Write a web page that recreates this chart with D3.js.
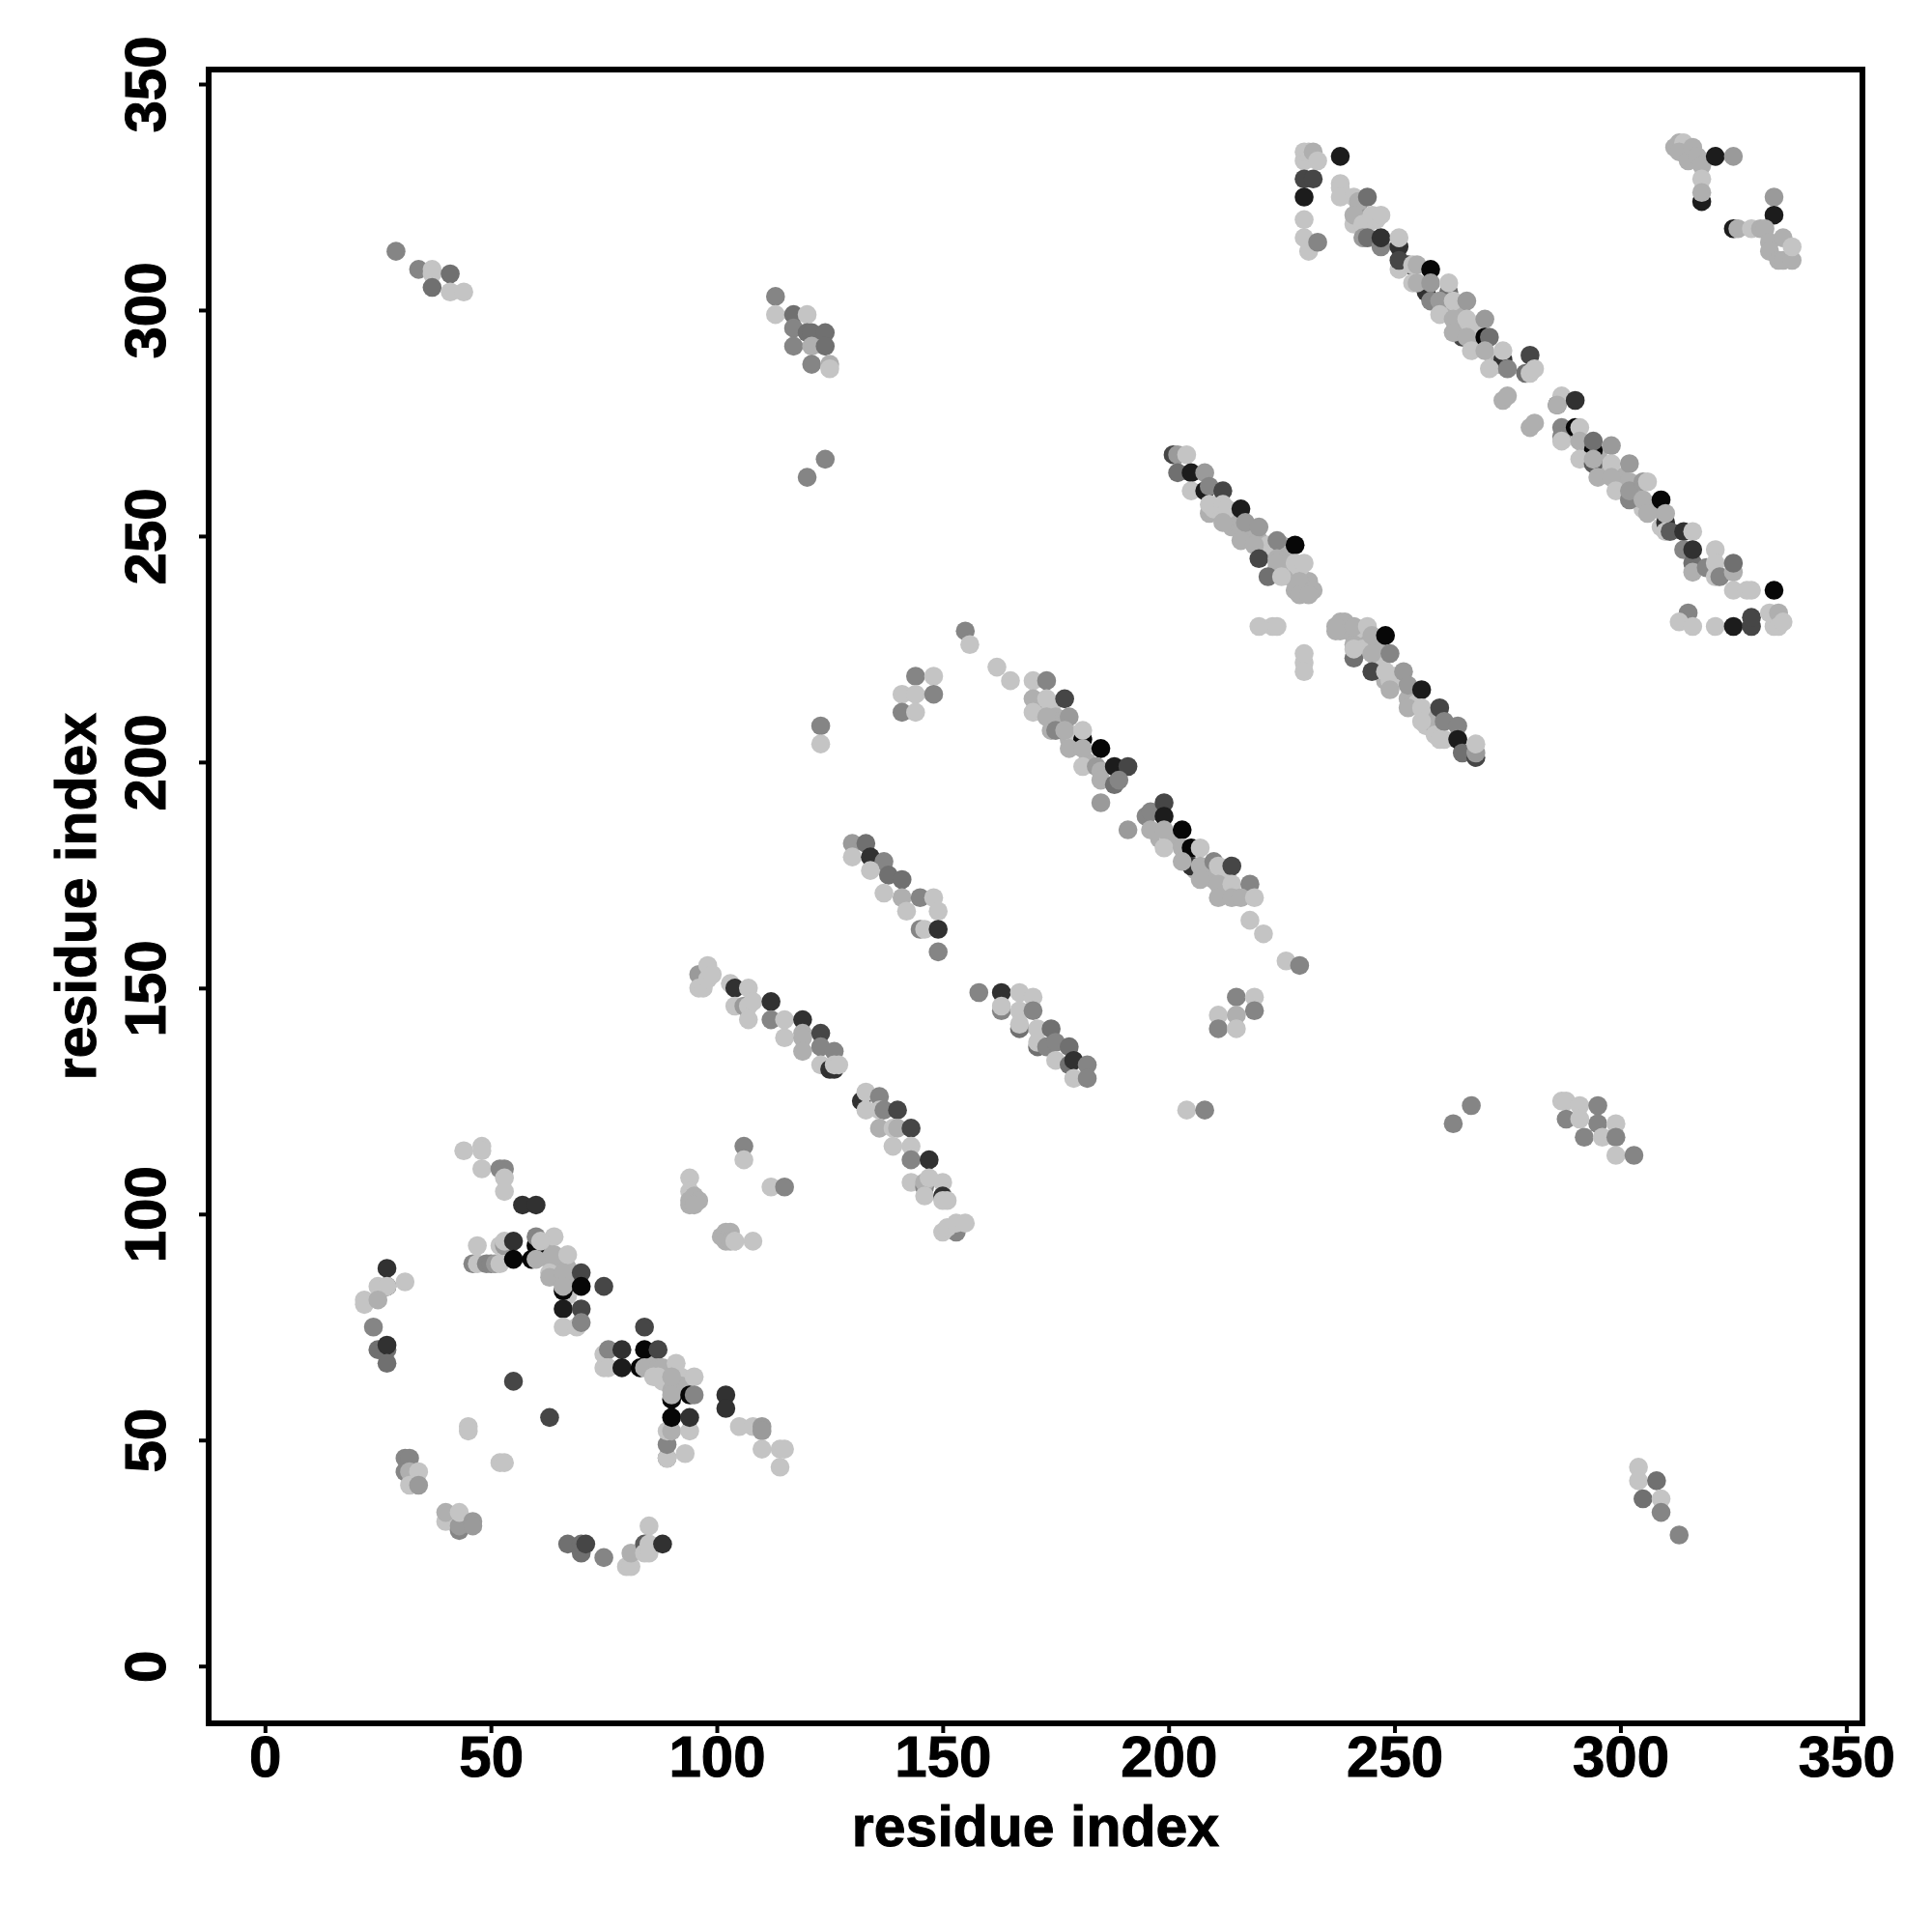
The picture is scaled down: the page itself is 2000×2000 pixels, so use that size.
<!DOCTYPE html>
<html><head><meta charset="utf-8">
<script src="https://cdn.jsdelivr.net/npm/d3@7"></script>
<style>html,body{margin:0;padding:0;background:#fff}svg{display:block}</style>
</head><body><svg id="c" width="2000" height="2000"></svg>
<script>
// each contact: [residue i, residue j, strength level 0..9]
const tickValues=[0,50,100,150,200,250,300,350];
const xTitle="residue index", yTitle="residue index";

const denseBands=[[61,91,1],[62,92,1],[63,90,1],[64,88,1],[65,89,1],[65,86,0],[67,88,1],[68,86,1],[68,84,1],[67,82,0],
[85,66,1],[86,67,1],[88,64,1],[89,65,1],[88,63,0],[91,63,1],[92,64,0],[91,61,1],[92,62,1],[90,61,1],
[171,213,1],[172,212,1],[174,212,0],[175,210,1],[176,209,1],[175,208,1],[178,205,1],[179,206,0],[180,204,0],[182,200,1],
[198,183,1],[200,183,0],[201,183,1],[204,179,1],[206,176,1],[208,176,1],[209,175,1],[210,174,1],[212,172,1],[213,171,1],[213,175,0],
[209,255,1],[210,256,0],[211,257,0],[213,254,1],[214,253,1],[215,253,1],[213,253,1],[214,252,1],[217,250,1],[216,251,1],[220,249,1],[222,248,0],[221,246,0],[224,243,1],[226,242,0],[227,241,1],[228,238,1],[230,238,1],[231,240,1],[229,243,0],[226,245,1],[225,248,1],[224,242,0],
[238,229,1],[239,231,1],[240,229,1],[241,228,1],[242,229,1],[243,228,0],[242,226,0],[241,226,1],[244,226,1],[243,225,0],[246,225,1],[247,222,0],[248,218,1],[249,218,0],[250,219,0],[253,214,1],[255,213,0],[258,210,0],[257,208,0],[258,209,1],[259,206,0],[261,205,0],
[241,319,0],[242,322,2],[244,319,0],[246,320,0],[254,306,0],[261,302,0],[262,304,4],[253,310,6],[265,294,6],
[262,300,1],[264,300,1],[264,297,1],[265,296,0],[268,296,0],[268,292,1],[272,289,0],[273,288,1],
[295,268,1],[296,265,1],[297,264,1],[300,263,1],[301,261,1],[303,261,1],[303,259,1],[304,258,1],[307,256,1],[305,256,0],[309,252,0],[308,256,1]];
const lowerLeftArc=[[27,84,7],[27,88,7],[25,84,0],[27,84,0],[31,85,0],[22,81,0],[22,80,0],[25,81,1],[24,75,3],[25,70,4],[27,70,4],[27,71,7],[27,67,4],
[31,46,3],[32,46,3],[31,43,3],[32,43,1],[34,43,0],[32,40,0],[34,40,2],[40,32,0],[40,34,1],[43,30,3],[43,31,2],[43,34,0],[46,32,2],[46,31,2],
[67,27,4],[70,25,4],[70,27,4],[71,27,6],[75,24,3],[80,22,0],[81,22,0],[81,25,1],[85,31,0],[84,27,5],[84,25,0],[85,27,0],[85,25,0],[88,27,7],
[45,53,0],[45,52,0],[52,45,0],[53,45,0],[55,63,6],[63,55,6]];
const strandA=[[44,114,0],[48,115,0],[48,114,0],[48,110,0],[52,110,3],[53,110,3],[53,108,0],[53,105,0],[57,102,7],[60,102,7],
[46,89,3],[47,89,0],[49,89,3],[50,89,3],[51,89,2],[52,89,0],[47,93,0],[52,93,0],[53,93,2],[53,94,0],[55,94,7],[55,90,9],[59,90,9],[60,93,9],[60,90,1],[60,95,3],[64,95,0],[61,94,0],
[63,87,0],[63,86,1],[64,91,1],[67,91,0],[66,87,1],[66,83,9],[66,84,1],[70,87,6],[70,84,9],[75,84,6],[66,79,8],[70,79,6],[66,75,0],[69,75,0],[70,76,3]];
const strandB=[[75,69,0],[76,70,3],[75,66,0],[76,66,0],[79,70,7],[79,66,8],[84,75,6],[84,70,9],[87,70,6],[83,66,9],[84,66,1],[87,66,1],[88,66,1],[86,64,0],[87,64,0],[91,67,0],[90,64,1],[95,64,0],
[90,59,9],[90,60,1],[94,60,9],[95,60,3],[102,60,7],[102,57,7],[89,46,3],[89,46,0],[89,49,3],[89,52,0],[90,52,1],[90,55,9],[94,52,0],[94,55,7],[93,47,0],
[105,53,0],[108,53,0],[110,53,2],[110,52,2],[110,48,0],[114,48,0],[115,48,0],[114,44,0]];
const islandsLow=[[94,108,0],[94,105,0],[94,103,1],[94,102,1],[95,104,1],[96,103,1],[95,102,1],[106,115,3],[106,112,0],[112,106,0],[115,106,3],
[101,95,1],[102,96,1],[103,96,1],[102,94,1],[103,94,1],[104,94,0],[108,94,0]];
const strandC=[[96,153,2],[96,150,0],[97,150,0],[98,152,0],[98,155,0],[99,153,0],[103,151,0],[104,150,7],[107,150,0],[104,146,0],[106,146,2],[107,146,0],[108,147,0],[107,143,0],
[112,147,7],[112,143,3],[115,143,0],[119,143,7],[115,139,0],[119,140,1],[119,139,1],[119,136,1],[123,140,6],[123,137,3],[126,136,3],[123,133,0],[125,132,7],[126,132,7],[126,133,0],[127,133,0]];
const strandD=[[132,125,7],[133,127,0],[133,123,0],[136,126,3],[136,123,0],[137,123,3],[140,123,6],[136,119,1],[139,119,0],[140,119,1],[143,119,6],[139,115,0],[143,115,0],[143,112,3],[147,112,7],
[143,107,0],[146,106,3],[146,107,1],[147,108,0],[150,107,0],[146,104,0],[150,104,7],[150,103,0],[151,103,0],[153,96,3],[150,96,0],[151,97,0],[153,98,0],[155,98,0]];
const strandE=[[158,149,3],[163,149,7],[167,149,0],[170,148,0],[163,145,3],[163,146,0],[167,145,0],[170,145,3],[167,141,4],[167,142,0],[171,137,4],[171,141,0],[174,141,4],[171,138,0],
[173,137,3],[175,138,3],[178,137,4],[175,134,0],[178,133,4],[179,134,7],[182,133,3],[179,130,0],[182,130,3]];
const strandF=[[130,182,2],[133,182,4],[130,179,0],[134,179,7],[137,178,3],[134,176,0],[138,175,4],[141,174,4],[137,171,0],[141,170,1],[145,170,3],[148,170,0],[142,167,0],[149,167,0],[145,163,3],[146,163,0],[149,163,7],[149,158,3]];
const strandG=[[170,218,0],[173,218,3],[170,214,1],[173,214,0],[177,214,6],[170,211,0],[173,210,1],[178,210,2],[174,207,1],[175,207,3],[177,207,1],[181,205,9],[181,207,0],[178,203,1],[181,203,1],[185,203,9],
[181,199,0],[184,199,2],[185,198,1],[188,199,8],[191,199,6],[185,196,1],[188,195,4],[189,196,3],[185,191,2]];
const strandH=[[191,185,2],[195,188,3],[196,189,3],[199,191,6],[199,188,8],[196,185,1],[199,185,1],[203,185,9],[199,181,0],[203,181,1],[205,181,9],[207,181,0],[205,177,7],[203,178,1],[207,177,1],[210,178,3],[211,177,0],[214,177,6],
[207,174,1],[211,173,1],[214,173,0],[218,173,3],[211,170,1],[214,170,1],[216,170,1],[219,170,0],[218,165,0],[221,162,0],[226,156,0],[229,155,3]];
const strandI=[[201,268,6],[202,268,2],[204,268,0],[202,264,4],[205,264,8],[208,264,2],[205,260,0],[208,260,8],[209,261,3],[212,260,6],[209,257,0],[212,257,0],[213,256,0],[216,256,8],[212,253,1],[217,253,2],[220,252,2],
[216,249,1],[219,248,1],[224,249,3],[228,248,9],[220,245,6],[224,245,1],[224,244,1],[222,241,4],[225,241,0],[229,240,1],[228,244,0],[230,244,0],[232,238,1],[229,237,1],[231,237,1]];
const strandJ=[[220,230,0],[223,230,0],[224,230,0],[230,222,0],[230,224,0],[230,220,0],[238,231,1],[237,230,1],[237,229,1],[241,230,1],[244,230,0],[245,228,1],[248,228,9],[241,223,4],[241,225,0],[245,224,1],[249,224,3],
[245,220,6],[248,220,0],[252,220,2],[249,216,1],[253,217,2],[256,216,8],[253,212,1],[256,212,0],[260,212,6],[256,209,0],[261,209,3],[264,208,3],[260,205,0],[264,205,8],[265,202,4],[268,201,6],[268,202,2],[268,204,0]];
const strandK=[[230,333,0],[230,335,0],[231,335,0],[232,335,1],[233,333,0],[230,329,6],[232,329,6],[230,325,8],[230,320,0],[230,316,0],[231,313,0],[233,315,3],[238,334,8],[238,328,0],[238,327,0],[238,325,0],[241,325,0],[242,324,1],[244,325,4],
[241,321,1],[243,319,0],[245,321,0],[247,321,0],[243,316,2],[244,316,4],[247,314,3],[247,316,7],[251,314,7],[251,316,0],[251,309,0],[251,311,6],[254,310,0],[255,310,1],[258,309,9],[257,304,7],[255,306,1],[258,306,2],[262,306,0]];
const strandL=[[258,302,3],[260,302,2],[263,302,0],[266,302,2],[260,299,0],[263,298,1],[266,298,0],[270,298,2],[263,295,1],[266,294,1],[270,294,9],[271,294,4],[267,291,0],[270,291,1],[274,289,7],[274,291,0],[280,290,6],
[271,287,0],[275,287,3],[279,286,4],[280,286,0],[281,287,0],[274,280,1],[275,281,1],[280,274,1],[281,275,1]];
const strandM=[[286,279,4],[287,281,0],[286,279,1],[290,280,7],[287,274,3],[287,272,3],[290,274,9],[291,274,0],[287,271,0],[291,271,1],[294,269,9],[294,271,4],[298,270,2],[291,267,0],[294,266,5],[294,267,1],[298,266,0],[302,266,2],
[295,263,1],[298,263,1],[302,262,1],[299,260,0],[302,258,3],[302,260,2],[305,262,2],[306,262,0],[305,258,1],[309,258,9],[306,255,1],[310,253,7],[310,255,1],[310,251,0],[311,251,5],[314,251,7],[316,251,0]];
const strandN=[[314,247,3],[316,244,4],[316,242,1],[316,247,7],[321,247,0],[319,243,3],[321,244,0],[321,241,0],[322,241,3],[325,242,1],[325,244,4],[325,238,0],[328,238,0],[329,238,0],[334,238,9],
[315,233,3],[313,231,0],[316,230,0],[321,230,0],[325,230,8],[329,230,6],[329,232,6],[333,233,0],[334,230,0],[335,233,1],[335,230,0],[336,231,0]];
const cornerTop=[[312,336,1],[313,337,1],[314,337,0],[313,335,1],[315,333,1],[316,336,1],[317,334,1],[318,332,1],[321,334,8],[325,334,2],[318,329,0],[318,324,8],[318,326,1],
[334,325,2],[334,321,8],[325,318,8],[326,318,1],[329,318,0],[331,318,1],[332,318,1],[333,315,1],[333,313,1],[335,311,1],[336,316,1],[336,311,1],[338,311,1],[338,314,0]];
const isolated=[[29,313,3],[34,309,3],[37,309,0],[37,308,0],[37,305,4],[41,308,4],[41,304,0],[44,304,0],
[113,303,3],[113,299,0],[117,299,4],[120,299,0],[117,296,3],[120,295,4],[121,295,4],[124,295,4],[117,292,3],[121,292,1],[124,292,4],[121,288,3],[125,288,1],[125,287,0],
[124,267,3],[120,263,3],[155,229,3],[156,226,0],[162,221,0],[165,218,0],
[144,219,3],[148,219,0],[141,215,0],[144,215,0],[148,215,3],[141,211,3],[144,211,0],[123,208,3],[123,204,0],
[215,148,3],[219,148,0],[219,145,3],[211,144,0],[215,144,1],[211,141,3],[215,141,0],
[204,123,0],[208,123,3],[263,120,3],[267,124,3],
[287,125,0],[288,125,0],[288,121,3],[291,124,0],[295,124,3],[291,121,0],[295,120,3],[299,120,0],[292,117,3],[296,117,0],[299,117,3],[299,113,0],[303,113,3],
[304,44,0],[304,41,0],[308,41,4],[305,37,4],[309,37,0],[309,34,3],[313,29,3]];

const contacts=[].concat(denseBands,lowerLeftArc,strandA,strandB,islandsLow,strandC,strandD,strandE,strandF,strandG,strandH,strandI,strandJ,strandK,strandL,strandM,strandN,cornerTop,isolated);

const svg=d3.select("#c");
const font='"Liberation Sans",Arial,sans-serif';
const x=d3.scaleLinear().domain([0,350]).range([274.3,1911.3]);
const y=d3.scaleLinear().domain([0,350]).range([1724.7,87]);
const shade=d3.scaleLinear().domain([0,9]).range(["#c4c4c4","#070707"]);
const left=216,right=1928,top_=72,bottom=1784;

svg.append("g").selectAll("circle").data(contacts).join("circle")
  .attr("cx",d=>x(d[0])).attr("cy",d=>y(d[1])).attr("r",9.8).attr("fill",d=>shade(d[2]));

const gx=svg.append("g").attr("transform",`translate(0,${bottom})`)
  .call(d3.axisBottom(x).tickValues(tickValues).tickSize(10).tickSizeOuter(0).tickPadding(0));
const gy=svg.append("g").attr("transform",`translate(${left},0)`)
  .call(d3.axisLeft(y).tickValues(tickValues).tickSize(10).tickSizeOuter(0).tickPadding(0));
gx.select(".domain").remove(); gy.select(".domain").remove();
svg.selectAll(".tick line").attr("stroke","#000").attr("stroke-width",4);
const lab=(s,size)=>s.attr("font-family",font).attr("font-weight","bold").attr("font-size",size).attr("fill","#000").attr("stroke","#000").attr("stroke-width",1);
gx.selectAll("text").attr("y",0).attr("dy",0).attr("transform","translate(0,55)").attr("text-anchor","middle").call(lab,60);
gy.selectAll("text").attr("x",0).attr("dy",0).attr("transform","translate(-45,0) rotate(-90)").attr("text-anchor","middle").call(lab,60);

svg.append("rect").attr("x",left).attr("y",top_).attr("width",right-left).attr("height",bottom-top_)
  .attr("fill","none").attr("stroke","#000").attr("stroke-width",6);

svg.append("text").attr("x",(left+right)/2).attr("y",1911).attr("text-anchor","middle").call(lab,59).text(xTitle);
svg.append("text").attr("transform",`translate(99,${(top_+bottom)/2}) rotate(-90)`).attr("text-anchor","middle").call(lab,59).text(yTitle);
</script></body></html>
